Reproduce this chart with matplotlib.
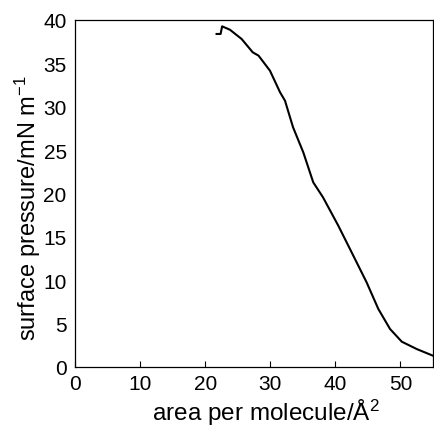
import matplotlib.pyplot as plt

# isotherm (area per molecule / A^2, surface pressure / mN m^-1)
area = [21.75, 22.37, 22.6, 23.8, 25.6, 27.3, 28.2, 29.95, 31.5, 32.26, 33.5,
        35.07, 36.6, 38.1, 40.45, 42.5, 44.8, 46.6, 48.4, 50.2, 52.5, 55.0]
pressure = [38.39, 38.39, 39.27, 38.88, 37.81, 36.28, 35.89, 34.16, 31.67, 30.70, 27.63,
            24.75, 21.29, 19.56, 16.29, 13.22, 9.76, 6.69, 4.38, 2.92, 2.07, 1.3]

x_ticks = [0, 10, 20, 30, 40, 50]
y_ticks = [0, 5, 10, 15, 20, 25, 30, 35, 40]

plt.rcParams["font.family"] = ["Liberation Sans", "DejaVu Sans"]
plt.rcParams["mathtext.fontset"] = "custom"
plt.rcParams["mathtext.rm"] = "Liberation Sans"
plt.rcParams["mathtext.it"] = "Liberation Sans"

fig = plt.figure(figsize=(4.34, 4.27), dpi=100)
ax = fig.add_axes([75 / 434, (427 - 368) / 427, 358 / 434, 347 / 427])

ax.plot(area, pressure, color="black", linewidth=1.5)

ax.set_xlim(0, 55)
ax.set_ylim(0, 40)
ax.set_xticks(x_ticks)
ax.set_yticks(y_ticks)
ax.tick_params(axis="x", direction="in", length=4, width=0.8, pad=5, labelsize=15)
ax.tick_params(axis="y", length=0, pad=6, labelsize=15)

for spine in ax.spines.values():
    spine.set_linewidth(0.9)

ax.set_xlabel("area per molecule/Å$^2$", fontsize=17.5)
ax.set_ylabel("surface pressure/mN m$^{-1}$", fontsize=17)
ax.xaxis.set_label_coords(0.534, -0.086)
ax.yaxis.set_label_coords(-0.088, 0.461)

fig.savefig("out.png", dpi=100)
